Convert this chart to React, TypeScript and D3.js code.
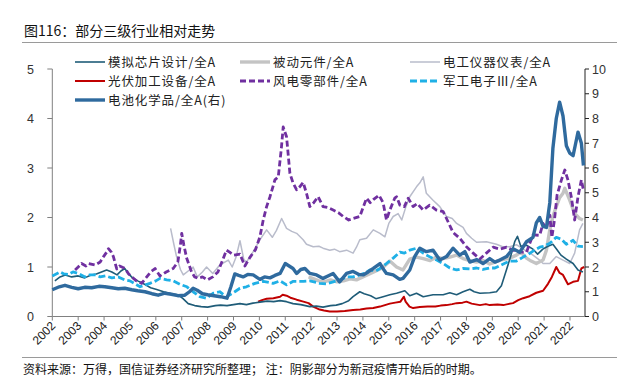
import React from "react";
import * as d3 from "d3";

const yearTicks = d3.range(2002, 2023).map(String);
const leftTicks = [0, 1, 2, 3, 4, 5];
const rightTicks = [0, 1, 2, 3, 4, 5, 6, 7, 8, 9, 10];

// [decimal year, value] — left axis unless noted
const analogChip: [number, number][] = [
  [2002.1,0.72],[2002.3,0.8],[2002.5,0.84],[2002.75,0.8],[2003.0,0.82],[2003.25,0.78],[2003.5,0.84],[2003.7,0.86],[2003.9,0.9],[2004.1,0.94],[2004.3,0.9],[2004.5,0.84],[2004.65,0.92],[2004.8,0.97],[2004.95,0.86],[2005.1,0.78],[2005.3,0.72],[2005.6,0.64],[2005.8,0.58],[2006.0,0.55],[2006.3,0.5],[2006.6,0.46],[2006.85,0.44],[2007.05,0.36],[2007.25,0.26],[2007.5,0.22],[2007.75,0.2],[2008.0,0.19],[2008.3,0.22],[2008.5,0.23],[2008.75,0.22],[2009.0,0.24],[2009.25,0.26],[2009.5,0.24],[2009.75,0.27],[2010.02,0.29],[2010.3,0.31],[2010.55,0.3],[2010.8,0.32],[2011.05,0.3],[2011.3,0.26],[2011.6,0.24],[2011.95,0.2],[2012.2,0.21],[2012.46,0.19],[2012.75,0.22],[2012.97,0.23],[2013.2,0.26],[2013.45,0.32],[2013.62,0.4],[2013.88,0.5],[2014.05,0.46],[2014.3,0.42],[2014.5,0.36],[2014.78,0.4],[2015.04,0.44],[2015.3,0.47],[2015.62,0.52],[2015.81,0.42],[2016.07,0.47],[2016.33,0.4],[2016.71,0.44],[2017.1,0.44],[2017.36,0.48],[2017.62,0.44],[2017.87,0.5],[2018.13,0.55],[2018.3,0.5],[2018.52,0.47],[2018.9,0.48],[2019.16,0.5],[2019.35,0.62],[2019.55,0.95],[2019.7,1.2],[2019.87,1.52],[2019.97,1.62],[2020.1,1.42],[2020.32,1.44],[2020.57,1.36],[2020.75,1.26],[2020.95,1.36],[2021.15,1.42],[2021.34,1.46],[2021.5,1.35],[2021.65,1.24],[2021.86,1.16],[2022.12,1.07],[2022.31,0.94],[2022.5,0.9]
];

const passiveParts: [number, number][] = [
  [2011.9,0.8],[2012.1,0.76],[2012.3,0.72],[2012.5,0.7],[2012.75,0.74],[2013.0,0.7],[2013.25,0.72],[2013.5,0.76],[2013.75,0.74],[2014.0,0.8],[2014.25,0.86],[2014.5,0.92],[2014.75,0.98],[2015.04,1.12],[2015.3,1.0],[2015.55,0.94],[2015.81,1.16],[2016.07,1.2],[2016.33,1.17],[2016.6,1.13],[2016.84,1.2],[2017.1,1.17],[2017.36,1.2],[2017.62,1.24],[2017.87,1.17],[2018.13,1.13],[2018.39,1.1],[2018.64,1.13],[2018.9,1.06],[2019.1,1.1],[2019.29,1.14],[2019.5,1.16],[2019.67,1.18],[2019.93,1.24],[2020.1,1.3],[2020.32,1.18],[2020.5,1.12],[2020.7,1.07],[2020.96,1.14],[2021.09,1.34],[2021.22,1.75],[2021.34,2.02],[2021.47,2.22],[2021.6,2.4],[2021.73,2.49],[2021.8,2.59],[2021.99,2.35],[2022.18,2.08],[2022.37,1.98],[2022.5,1.95]
];

const meters: [number, number][] = [
  [2006.57,1.78],[2006.7,1.45],[2006.8,1.21],[2006.95,0.95],[2007.06,0.84],[2007.25,0.92],[2007.44,1.0],[2007.6,0.8],[2007.8,0.9],[2007.96,1.0],[2008.2,0.87],[2008.47,1.04],[2008.8,1.14],[2008.95,1.0],[2009.1,1.2],[2009.25,1.53],[2009.4,1.15],[2009.5,1.1],[2009.75,1.3],[2010.02,1.55],[2010.28,1.75],[2010.5,1.6],[2010.66,1.74],[2010.86,1.98],[2011.05,1.78],[2011.25,1.72],[2011.44,1.68],[2011.69,1.55],[2011.82,1.46],[2012.08,1.41],[2012.3,1.42],[2012.46,1.38],[2012.72,1.34],[2012.9,1.36],[2013.1,1.31],[2013.37,1.34],[2013.62,1.28],[2013.75,1.4],[2013.88,1.55],[2014.14,1.58],[2014.4,1.75],[2014.66,1.68],[2014.85,1.61],[2015.0,1.88],[2015.17,2.02],[2015.36,2.08],[2015.5,1.95],[2015.65,2.2],[2015.81,2.42],[2016.07,2.62],[2016.2,2.7],[2016.33,2.82],[2016.45,2.49],[2016.71,2.35],[2016.97,2.22],[2017.23,2.02],[2017.45,1.98],[2017.62,1.88],[2017.87,1.8],[2018.0,1.68],[2018.2,1.58],[2018.39,1.5],[2018.77,1.51],[2019.16,1.46],[2019.4,1.41],[2019.67,1.41],[2019.93,1.45],[2020.19,1.36],[2020.4,1.3],[2020.57,1.24],[2020.8,1.15],[2020.96,1.07],[2021.22,1.07],[2021.47,1.21],[2021.73,1.14],[2021.99,1.07],[2022.18,1.28],[2022.37,1.75],[2022.5,1.88]
];

const pvEquip: [number, number][] = [
  [2009.95,0.3],[2010.1,0.33],[2010.28,0.36],[2010.54,0.37],[2010.8,0.4],[2010.9,0.44],[2011.05,0.42],[2011.2,0.38],[2011.44,0.34],[2011.7,0.3],[2011.9,0.27],[2012.08,0.2],[2012.33,0.14],[2012.5,0.12],[2012.72,0.1],[2013.0,0.1],[2013.3,0.11],[2013.62,0.13],[2013.9,0.14],[2014.14,0.16],[2014.4,0.17],[2014.66,0.2],[2014.85,0.23],[2015.04,0.26],[2015.25,0.28],[2015.45,0.3],[2015.58,0.4],[2015.65,0.3],[2015.8,0.2],[2015.94,0.17],[2016.2,0.19],[2016.5,0.2],[2016.8,0.2],[2017.0,0.22],[2017.23,0.23],[2017.45,0.25],[2017.62,0.27],[2017.85,0.28],[2018.0,0.3],[2018.2,0.26],[2018.52,0.23],[2018.75,0.25],[2018.9,0.23],[2019.2,0.24],[2019.42,0.23],[2019.6,0.25],[2019.8,0.27],[2020.0,0.33],[2020.19,0.37],[2020.44,0.41],[2020.7,0.48],[2020.96,0.52],[2021.15,0.66],[2021.3,0.8],[2021.47,1.0],[2021.6,0.88],[2021.73,0.84],[2021.92,0.65],[2022.12,0.7],[2022.31,0.72],[2022.44,0.97],[2022.55,1.0]
];

const windParts: [number, number][] = [
  [2002.88,0.94],[2003.0,1.0],[2003.13,1.07],[2003.3,1.02],[2003.4,1.07],[2003.66,1.04],[2003.85,1.1],[2003.98,1.21],[2004.1,1.3],[2004.17,1.37],[2004.28,1.3],[2004.36,1.21],[2004.49,0.96],[2004.6,1.02],[2004.81,0.97],[2004.95,0.86],[2005.07,0.8],[2005.25,0.72],[2005.45,0.67],[2005.65,0.8],[2005.8,0.9],[2005.97,0.97],[2006.16,0.82],[2006.4,0.9],[2006.67,0.97],[2006.85,1.1],[2006.95,1.45],[2007.0,1.68],[2007.08,1.45],[2007.19,1.18],[2007.38,0.9],[2007.5,0.8],[2007.64,0.77],[2007.8,0.8],[2008.0,0.74],[2008.2,0.8],[2008.4,0.9],[2008.55,1.1],[2008.73,1.34],[2008.85,1.3],[2009.0,1.24],[2009.25,1.26],[2009.44,1.02],[2009.63,1.19],[2009.85,1.35],[2010.02,1.61],[2010.15,1.95],[2010.28,2.22],[2010.41,2.42],[2010.6,2.76],[2010.73,2.82],[2010.85,3.4],[2010.92,3.83],[2011.05,3.63],[2011.18,2.89],[2011.3,2.7],[2011.44,2.56],[2011.56,2.62],[2011.69,2.71],[2011.82,2.49],[2011.95,2.22],[2012.1,2.3],[2012.27,2.42],[2012.46,2.22],[2012.65,2.2],[2012.85,2.15],[2013.05,2.1],[2013.24,2.02],[2013.45,1.95],[2013.62,1.98],[2013.88,2.02],[2014.14,2.39],[2014.28,2.3],[2014.4,2.36],[2014.62,2.45],[2014.78,2.3],[2014.91,1.95],[2015.04,2.15],[2015.23,2.39],[2015.3,2.42],[2015.43,2.25],[2015.6,2.22],[2015.75,2.39],[2015.94,2.22],[2016.1,2.28],[2016.33,2.15],[2016.58,2.25],[2016.84,2.15],[2017.1,2.12],[2017.23,1.98],[2017.48,1.7],[2017.74,1.58],[2018.0,1.41],[2018.26,1.28],[2018.52,1.16],[2018.77,1.28],[2019.03,1.4],[2019.29,1.36],[2019.55,1.4],[2019.8,1.34],[2020.06,1.3],[2020.32,1.3],[2020.57,1.65],[2020.83,1.64],[2020.96,1.88],[2021.09,1.78],[2021.22,2.05],[2021.3,1.6],[2021.4,1.95],[2021.5,2.45],[2021.67,2.76],[2021.8,2.96],[2021.92,2.76],[2022.05,2.42],[2022.18,1.95],[2022.31,2.42],[2022.44,2.76],[2022.52,2.55]
];

const milElec: [number, number][] = [
  [2002.0,0.82],[2002.15,0.86],[2002.3,0.9],[2002.45,0.86],[2002.62,0.85],[2002.8,0.9],[2003.0,0.87],[2003.26,0.8],[2003.45,0.84],[2003.65,0.84],[2003.85,0.8],[2004.05,0.82],[2004.3,0.78],[2004.55,0.8],[2004.8,0.74],[2005.0,0.72],[2005.2,0.66],[2005.39,0.6],[2005.6,0.64],[2005.77,0.67],[2006.0,0.72],[2006.16,0.77],[2006.42,0.74],[2006.67,0.72],[2006.93,0.65],[2007.2,0.6],[2007.44,0.5],[2007.7,0.4],[2007.96,0.37],[2008.22,0.47],[2008.47,0.5],[2008.73,0.4],[2009.05,0.5],[2009.25,0.57],[2009.5,0.6],[2009.83,0.67],[2010.15,0.71],[2010.53,0.67],[2010.8,0.72],[2011.05,0.64],[2011.31,0.71],[2011.7,0.71],[2011.95,0.72],[2012.33,0.67],[2012.6,0.66],[2012.85,0.7],[2013.1,0.74],[2013.37,0.8],[2013.62,0.8],[2013.88,0.84],[2014.1,0.88],[2014.27,0.94],[2014.5,0.92],[2014.66,0.97],[2014.91,1.07],[2015.17,1.18],[2015.43,1.3],[2015.6,1.28],[2015.81,1.34],[2016.07,1.38],[2016.33,1.28],[2016.6,1.2],[2016.85,1.14],[2017.1,1.07],[2017.36,0.98],[2017.62,0.94],[2017.87,0.97],[2018.13,0.96],[2018.39,0.98],[2018.64,0.95],[2018.9,0.98],[2019.1,0.98],[2019.3,1.03],[2019.5,1.08],[2019.67,1.12],[2019.93,1.12],[2020.19,1.2],[2020.4,1.26],[2020.57,1.32],[2020.83,1.4],[2021.0,1.42],[2021.22,1.48],[2021.47,1.6],[2021.67,1.56],[2021.86,1.46],[2022.0,1.5],[2022.12,1.54],[2022.31,1.42],[2022.5,1.41]
];

// right axis values
const batteryChem: [number, number][] = [
  [2002.0,1.08],[2002.27,1.2],[2002.49,1.26],[2002.75,1.18],[2003.0,1.12],[2003.25,1.18],[2003.52,1.16],[2003.8,1.22],[2004.03,1.2],[2004.3,1.16],[2004.55,1.12],[2004.8,1.14],[2005.07,1.08],[2005.3,1.04],[2005.58,1.0],[2005.85,0.92],[2006.09,0.86],[2006.35,0.94],[2006.6,0.9],[2006.85,0.84],[2007.12,0.86],[2007.3,1.0],[2007.44,1.14],[2007.6,1.06],[2007.8,0.92],[2008.0,0.88],[2008.25,0.84],[2008.5,0.8],[2008.75,0.74],[2008.9,1.2],[2009.05,1.72],[2009.2,1.66],[2009.37,1.6],[2009.55,1.7],[2009.76,1.68],[2010.02,1.5],[2010.2,1.6],[2010.41,1.56],[2010.6,1.66],[2010.8,1.74],[2011.0,2.14],[2011.18,2.02],[2011.3,1.94],[2011.44,1.74],[2011.6,1.9],[2011.76,1.94],[2011.95,1.74],[2012.21,1.68],[2012.46,1.54],[2012.65,1.64],[2012.85,1.74],[2013.1,1.4],[2013.37,1.74],[2013.62,1.82],[2013.85,1.7],[2014.01,1.68],[2014.2,1.8],[2014.4,1.94],[2014.66,2.14],[2014.8,1.9],[2014.91,1.74],[2015.17,1.68],[2015.42,1.5],[2015.55,1.54],[2015.81,1.88],[2016.0,2.42],[2016.2,2.76],[2016.45,2.62],[2016.71,2.68],[2016.97,2.28],[2017.23,2.42],[2017.48,2.76],[2017.74,2.48],[2017.94,2.62],[2018.13,2.2],[2018.4,2.3],[2018.64,2.14],[2018.9,2.34],[2019.1,2.2],[2019.29,2.28],[2019.55,2.42],[2019.8,2.74],[2020.06,2.6],[2020.32,3.02],[2020.57,3.2],[2020.7,3.78],[2020.83,4.0],[2020.96,3.64],[2021.09,3.6],[2021.22,4.6],[2021.34,6.8],[2021.47,8.0],[2021.6,8.66],[2021.73,8.1],[2021.86,6.9],[2021.99,6.6],[2022.12,6.5],[2022.2,6.9],[2022.31,7.45],[2022.44,7.0],[2022.52,6.1]
];

const seriesNames = [
  "模拟芯片设计/全A", "被动元件/全A", "电工仪器仪表/全A",
  "光伏加工设备/全A", "风电零部件/全A", "军工电子Ⅲ/全A",
  "电池化学品/全A(右)",
];

const W = 636, H = 384;
const X0 = 52.3, X1 = 585, Y0 = 316.5, Y1 = 69;
const cjk = "'Noto Sans CJK SC', 'Noto Sans', sans-serif";
const num = "'Liberation Sans', Arial, sans-serif";

export default function App() {
  const x = d3.scaleLinear().domain([2002, 2022.58]).range([X0, X1]);
  const yL = d3.scaleLinear().domain([0, 5]).range([Y0, Y1]);
  const yR = d3.scaleLinear().domain([0, 10]).range([Y0, Y1]);
  const lineL = d3.line<[number, number]>().x(d => x(d[0])).y(d => yL(d[1]));
  const lineR = d3.line<[number, number]>().x(d => x(d[0])).y(d => yR(d[1]));

  const styles = [
    { color: "#1F5C78", w: 1.6, dash: "" },
    { color: "#C4C4C4", w: 3.4, dash: "" },
    { color: "#B9BCCB", w: 1.5, dash: "" },
    { color: "#C00000", w: 2, dash: "" },
    { color: "#7030A0", w: 2.8, dash: "6,3" },
    { color: "#1FB0E6", w: 2.8, dash: "7,3" },
    { color: "#2F6A9E", w: 3.4, dash: "" },
  ];
  const data = [analogChip, passiveParts, meters, pvEquip, windParts, milElec, batteryChem];
  const drawOrder = [2, 1, 3, 0, 5, 4, 6];

  const legendPos = [
    [75, 62], [240, 62], [410, 62],
    [75, 81], [240, 81], [410, 81],
    [75, 100],
  ];

  return (
    <svg width={W} height={H} style={{ position: "absolute", left: 0, top: 0, background: "#fff" }}>
      <rect width={W} height={H} fill="#fff" />
      <text x={24} y={36} fontFamily={cjk} fontSize={14} fill="#111">图116：部分三级行业相对走势</text>
      <line x1={22} x2={617} y1={42.5} y2={42.5} stroke="#9a9a9a" strokeWidth={1} />

      {/* axes */}
      <line x1={X0} x2={X0} y1={Y1} y2={Y0} stroke="#808080" />
      {leftTicks.map(t => (
        <g key={"l" + t}>
          <line x1={X0 - 5} x2={X0} y1={yL(t)} y2={yL(t)} stroke="#808080" />
          <text x={34} y={yL(t) + 4.5} textAnchor="end" fontFamily={num} fontSize={12.5} fill="#333">{t}</text>
        </g>
      ))}
      <line x1={X1} x2={X1} y1={Y1} y2={Y0} stroke="#222" />
      {rightTicks.map(t => (
        <g key={"r" + t}>
          <line x1={X1} x2={X1 + 4} y1={yR(t)} y2={yR(t)} stroke="#222" />
          <text x={592} y={yR(t) + 4.5} fontFamily={num} fontSize={12.5} fill="#333">{t}</text>
        </g>
      ))}
      <line x1={X0} x2={X1} y1={Y0} y2={Y0} stroke="#808080" />
      {yearTicks.map(t => (
        <g key={"x" + t}>
          <line x1={x(+t)} x2={x(+t)} y1={Y0} y2={Y0 + 4} stroke="#808080" />
          <text transform={`translate(${x(+t) + 4},${Y0 + 10}) rotate(-45)`} textAnchor="end" fontFamily={num} fontSize={12} fill="#222">{t}</text>
        </g>
      ))}

      {/* series */}
      {drawOrder.map(i => (
        <path key={"s" + i} d={(i === 6 ? lineR : lineL)(data[i]) || ""} fill="none"
          stroke={styles[i].color} strokeWidth={styles[i].w} strokeDasharray={styles[i].dash || undefined}
          strokeLinejoin="round" />
      ))}

      {/* legend */}
      {seriesNames.map((n, i) => (
        <g key={"lg" + i}>
          <line x1={legendPos[i][0]} x2={legendPos[i][0] + 30} y1={legendPos[i][1]} y2={legendPos[i][1]}
            stroke={styles[i].color} strokeWidth={styles[i].w} strokeDasharray={styles[i].dash || undefined} />
          <text x={legendPos[i][0] + 33} y={legendPos[i][1] + 4.5} fontFamily={cjk} fontSize={12.5} letterSpacing={0.9} fill="#222">{n}</text>
        </g>
      ))}

      <line x1={22} x2={617} y1={357.5} y2={357.5} stroke="#9a9a9a" strokeWidth={1.2} />
      <text x={23} y={374} fontFamily={cjk} fontSize={12} fill="#111">资料来源：万得，国信证券经济研究所整理；  注：阴影部分为新冠疫情开始后的时期。</text>
    </svg>
  );
}
